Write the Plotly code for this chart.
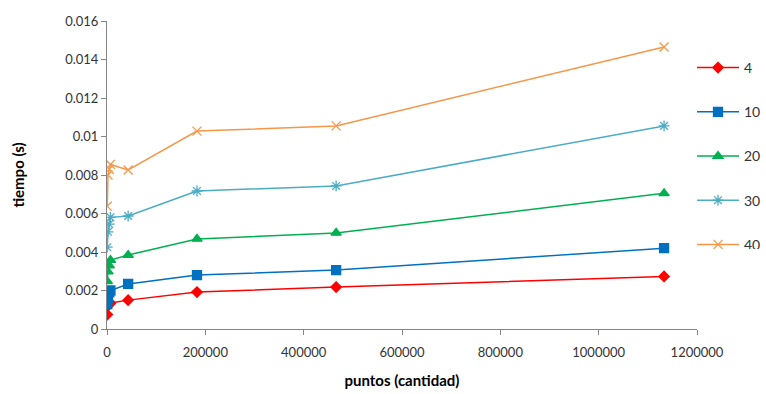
import plotly.graph_objects as go

puntos = [500, 2000, 4500, 7000, 43000, 183000, 466000, 1133000]

serie_4 = [0.00075, 0.00120, 0.00130, 0.00135, 0.00150, 0.00192, 0.00218, 0.00273]
serie_10 = [0.00130, 0.00160, 0.00190, 0.00200, 0.00234, 0.00280, 0.00306, 0.00420]
serie_20 = [0.00248, 0.00298, 0.00330, 0.00358, 0.00384, 0.00468, 0.00499, 0.00705]
serie_30 = [0.00425, 0.00505, 0.00545, 0.00580, 0.00587, 0.00717, 0.00743, 0.01055]
serie_40 = [0.00638, 0.00800, 0.00830, 0.00855, 0.00826, 0.01028, 0.01055, 0.01465]

nombres = ["4", "10", "20", "30", "40"]
colores = ["#FF0000", "#0070C0", "#00B050", "#4BACC6", "#F79646"]
simbolos = ["diamond", "square", "triangle-up", "asterisk-open", "x-thin-open"]
tamanos = [8, 9, 9, 9, 9]

y_ticks = [0, 0.002, 0.004, 0.006, 0.008, 0.01, 0.012, 0.014, 0.016]
y_labels = ["0", "0.002", "0.004", "0.006", "0.008", "0.01", "0.012", "0.014", "0.016"]
x_ticks = [0, 200000, 400000, 600000, 800000, 1000000, 1200000]
x_labels = ["0", "200000", "400000", "600000", "800000", "1000000", "1200000"]

series = [serie_4, serie_10, serie_20, serie_30, serie_40]

fig = go.Figure()
for nombre, valores, color, simbolo, tam in zip(nombres, series, colores, simbolos, tamanos):
    fig.add_trace(go.Scatter(
        x=puntos, y=valores, name=nombre, mode="lines+markers",
        legendgroup=nombre,
        line=dict(color=color, width=1.5),
        marker=dict(symbol=simbolo, size=tam, color=color,
                    line=dict(color=color, width=1.3)),
    ))

fuente = "Lato, 'Open Sans', sans-serif"
fig.update_layout(
    width=766, height=394,
    margin=dict(l=107, r=69, t=21, b=65, autoexpand=False),
    paper_bgcolor="white", plot_bgcolor="white",
    font=dict(family=fuente, size=13, color="#333333"),
    showlegend=True,
    legend=dict(xref="container", yref="container",
                x=692 / 766, xanchor="left", y=1 - 52 / 394, yanchor="top",
                tracegroupgap=23, itemwidth=42,
                font=dict(size=14, color="#333333"),
                bgcolor="rgba(0,0,0,0)"),
    xaxis=dict(range=[0, 1200000], tickvals=x_ticks, ticktext=x_labels,
               showgrid=False, zeroline=False, showline=True,
               linecolor="#868686", linewidth=1, ticks="outside",
               tickcolor="#868686", ticklen=5, ticklabelstandoff=6,
               title=dict(text="<b>puntos (cantidad)</b>",
                          font=dict(size=15, color="#000000"), standoff=16)),
    yaxis=dict(range=[0, 0.016], tickvals=y_ticks, ticktext=y_labels,
               showgrid=False, zeroline=False, showline=True,
               linecolor="#868686", linewidth=1, ticks="outside",
               tickcolor="#868686", ticklen=5,
               title=dict(text="<b>tiempo (s)</b>",
                          font=dict(size=15, color="#000000"), standoff=36)),
)

fig.write_html("out.html")
